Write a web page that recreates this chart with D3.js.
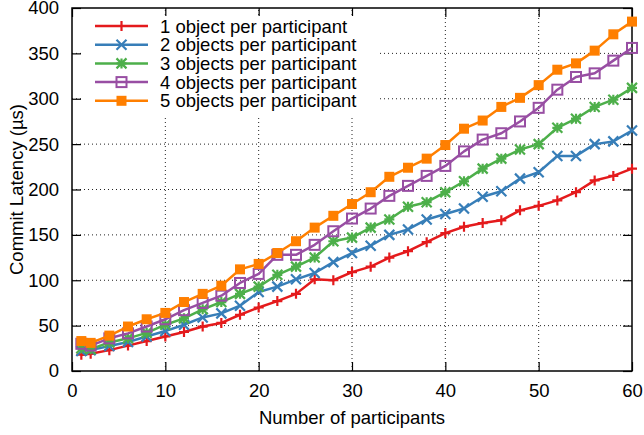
<!DOCTYPE html>
<html>
<head>
<meta charset="utf-8">
<script src="https://cdn.jsdelivr.net/npm/d3@7"></script>
<style>
  body { margin: 0; background: #fff; }
  text { font-family: "Liberation Sans", Arial, sans-serif; fill: #000; }
</style>
</head>
<body>
<div id="chart"></div>
<script>
// participants (x values)
const participants = [1, 2, 4, 6, 8, 10, 12, 14, 16, 18, 20, 22, 24, 26, 28, 30,
  32, 34, 36, 38, 40, 42, 44, 46, 48, 50, 52, 54, 56, 58, 60];

// commit latency (µs) per series
const obj1 = [18, 19, 23, 28, 33, 38, 43, 49, 53, 62, 70, 77, 85, 101, 100, 109,
  115, 125, 132, 142, 152, 159, 163, 166, 177, 182, 188, 197, 210, 215, 223];
const obj2 = [22, 23, 27.5, 32, 38, 44, 51, 59, 63.5, 72, 87, 93, 101, 108, 120, 130,
  138, 150, 156, 167, 173, 179, 192, 198, 212, 219, 237, 237, 250, 253, 265];
const obj3 = [25, 24, 31.5, 36, 42, 51, 58, 68, 76, 85, 93, 106, 115, 125, 143, 147,
  158, 167, 181, 186, 197, 209, 223, 234, 244, 250, 268, 278, 291, 299, 312];
const obj4 = [30, 28, 36, 41.5, 49, 57, 67, 75, 83, 97, 107, 128, 128, 139, 154, 168,
  179, 193, 204, 215, 226, 242, 255, 262, 275, 290, 310, 324, 328, 342, 356];
const obj5 = [33, 31, 39, 49, 57, 64, 76, 85, 94, 112, 118, 130, 143, 158, 171, 184,
  197, 214, 224, 234, 249, 267, 276, 291, 301, 315, 332, 339, 353, 371, 385];

const seriesNames = [
  "1 object per participant",
  "2 objects per participant",
  "3 objects per participant",
  "4 objects per participant",
  "5 objects per participant",
];
const xTicks = [0, 10, 20, 30, 40, 50, 60];
const yTicks = [0, 50, 100, 150, 200, 250, 300, 350, 400];

const series = [
  { name: seriesNames[0], values: obj1, color: "#e41a1c", marker: "plus" },
  { name: seriesNames[1], values: obj2, color: "#377eb8", marker: "cross" },
  { name: seriesNames[2], values: obj3, color: "#4daf4a", marker: "star" },
  { name: seriesNames[3], values: obj4, color: "#984ea3", marker: "box" },
  { name: seriesNames[4], values: obj5, color: "#ff7f00", marker: "filledbox" },
];

const width = 644;
const height = 435;
const margin = { top: 8, right: 12, bottom: 64, left: 72 };
const fontSize = 18.5;

const x = d3.scaleLinear().domain([0, 60]).range([margin.left, width - margin.right]);
const y = d3.scaleLinear().domain([0, 400]).range([height - margin.bottom, margin.top]);

const svg = d3.select("#chart").append("svg")
  .attr("width", width)
  .attr("height", height);

// grille pointillée
const grid = svg.append("g")
  .attr("stroke", "#222")
  .attr("stroke-width", 1)
  .attr("stroke-dasharray", "1,3");
grid.selectAll("line.gx").data(xTicks.slice(1, -1)).join("line")
  .attr("x1", (d) => x(d)).attr("x2", (d) => x(d))
  .attr("y1", y(0)).attr("y2", y(400));
grid.selectAll("line.gy").data(yTicks.slice(1, -1)).join("line")
  .attr("x1", x(0)).attr("x2", x(60))
  .attr("y1", (d) => y(d)).attr("y2", (d) => y(d));

// axes with inward ticks, mirrored on top / right
const tickLen = 9;
svg.append("g")
  .attr("transform", `translate(0,${y(0)})`)
  .call(d3.axisBottom(x).tickValues(xTicks).tickSize(-tickLen).tickPadding(13))
  .call((g) => g.select(".domain").remove())
  .call((g) => g.selectAll("text").attr("font-size", fontSize).attr("dy", "0.72em"));
svg.append("g")
  .attr("transform", `translate(0,${y(400)})`)
  .call(d3.axisTop(x).tickValues(xTicks).tickSize(-tickLen).tickFormat(""))
  .call((g) => g.select(".domain").remove());
svg.append("g")
  .attr("transform", `translate(${x(0)},0)`)
  .call(d3.axisLeft(y).tickValues(yTicks).tickSize(-tickLen).tickPadding(13))
  .call((g) => g.select(".domain").remove())
  .call((g) => g.selectAll("text").attr("font-size", fontSize));
svg.append("g")
  .attr("transform", `translate(${x(60)},0)`)
  .call(d3.axisRight(y).tickValues(yTicks).tickSize(-tickLen).tickFormat(""))
  .call((g) => g.select(".domain").remove());
svg.selectAll(".tick line").attr("stroke", "#000").attr("stroke-width", 1.2);

// cadre
svg.append("rect")
  .attr("x", x(0)).attr("y", y(400))
  .attr("width", x(60) - x(0)).attr("height", y(0) - y(400))
  .attr("fill", "none").attr("stroke", "#000").attr("stroke-width", 1.5);

// axis titles
svg.append("text")
  .attr("x", (x(0) + x(60)) / 2).attr("y", 424)
  .attr("text-anchor", "middle").attr("font-size", fontSize)
  .text("Number of participants");
svg.append("text")
  .attr("transform", `translate(23,${(y(0) + y(400)) / 2}) rotate(-90)`)
  .attr("text-anchor", "middle").attr("font-size", fontSize)
  .text("Commit Latency (µs)");

// marker drawing
function drawMarker(g, type, color) {
  const s = 5;
  if (type === "plus") {
    g.append("path").attr("d", `M${-s},0H${s}M0,${-s}V${s}`)
      .attr("stroke", color).attr("stroke-width", 2.2).attr("fill", "none");
  } else if (type === "cross") {
    g.append("path").attr("d", `M${-s},${-s}L${s},${s}M${-s},${s}L${s},${-s}`)
      .attr("stroke", color).attr("stroke-width", 2.2).attr("fill", "none");
  } else if (type === "star") {
    g.append("path")
      .attr("d", `M${-s},0H${s}M0,${-s}V${s}M${-s},${-s}L${s},${s}M${-s},${s}L${s},${-s}`)
      .attr("stroke", color).attr("stroke-width", 2.2).attr("fill", "none");
  } else if (type === "box") {
    g.append("rect").attr("x", -s).attr("y", -s).attr("width", 2 * s).attr("height", 2 * s)
      .attr("stroke", color).attr("stroke-width", 2).attr("fill", "none");
  } else {
    g.append("rect").attr("x", -s).attr("y", -s).attr("width", 2 * s).attr("height", 2 * s)
      .attr("fill", color);
  }
}

const line = d3.line()
  .x((d, i) => x(participants[i]))
  .y((d) => y(d));

// series lines and points
series.forEach((s) => {
  const g = svg.append("g");
  g.append("path")
    .datum(s.values)
    .attr("d", line)
    .attr("fill", "none")
    .attr("stroke", s.color)
    .attr("stroke-width", 2.5)
    .attr("stroke-linejoin", "round");
  s.values.forEach((v, i) => {
    const m = g.append("g").attr("transform", `translate(${x(participants[i])},${y(v)})`);
    drawMarker(m, s.marker, s.color);
  });
});

// légende (fond opaque)
const legend = svg.append("g");
legend.append("rect")
  .attr("x", x(0) + 10).attr("y", y(400) + 8)
  .attr("width", 296).attr("height", 102)
  .attr("fill", "#fff");
series.forEach((s, i) => {
  const cy = 26 + i * 18.7;
  const row = legend.append("g");
  row.append("line")
    .attr("x1", 95).attr("x2", 148).attr("y1", cy).attr("y2", cy)
    .attr("stroke", s.color).attr("stroke-width", 2.5);
  drawMarker(row.append("g").attr("transform", `translate(121.5,${cy})`), s.marker, s.color);
  row.append("text")
    .attr("x", 160).attr("y", cy).attr("dy", "0.36em")
    .attr("font-size", fontSize)
    .text(s.name);
});
</script>
</body>
</html>
